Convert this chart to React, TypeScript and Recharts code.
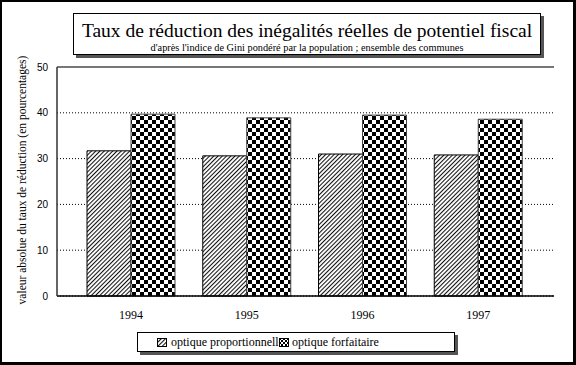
import React from 'react';
import { BarChart, Bar, XAxis, YAxis, CartesianGrid, ReferenceLine } from 'recharts';

const years = ['1994', '1995', '1996', '1997'];
const proportionnelle = [31.7, 30.6, 31.0, 30.8];
const forfaitaire = [39.7, 38.9, 39.5, 38.6];
const yTicks = [0, 10, 20, 30, 40, 50];

const data = years.map((y, i) => ({ year: y, prop: proportionnelle[i], forf: forfaitaire[i] }));

const serif = '"Liberation Serif", "DejaVu Serif", serif';
const sans = '"Liberation Sans", Arial, sans-serif';

// legend like the original: second icon overlaps the end of the first label
const LegendBox = () => (
  <div
    style={{
      position: 'absolute',
      left: 137,
      top: 332,
      width: 318,
      height: 20,
      border: '1px solid #000',
      background: '#fff',
      boxShadow: '3px 3px 0 #555',
      fontFamily: serif,
      fontSize: 12,
      display: 'flex',
      alignItems: 'center',
      boxSizing: 'border-box',
      whiteSpace: 'nowrap',
      paddingLeft: 19,
    }}
  >
    <svg width={10} height={9} style={{ marginRight: 4 }}>
      <rect x={0.5} y={0.5} width={9} height={8} fill="url(#hatchLg)" stroke="#000" />
    </svg>
    <span>optique proportionnelle</span>
    <svg width={10} height={9} style={{ marginLeft: -5, marginRight: 3, position: 'relative', background: '#fff' }}>
      <rect x={0.5} y={0.5} width={9} height={8} fill="url(#checkLg)" stroke="#000" />
    </svg>
    <span>optique forfaitaire</span>
  </div>
);

export default function App() {
  return (
    <div style={{ position: 'relative', width: 576, height: 365 }}>
      <style>{`body{margin:0}`}</style>
      <div
        style={{
          position: 'absolute',
          left: 0,
          top: 0,
          width: 576,
          height: 365,
          borderTop: '2px solid #000',
          borderLeft: '2px solid #000',
          borderRight: '3px solid #000',
          borderBottom: '3px solid #000',
          boxSizing: 'border-box',
        }}
      />
      <BarChart
        width={576}
        height={365}
        data={data}
        margin={{ top: 67, right: 22, bottom: 39, left: 37 }}
        barGap={0}
        barSize={44}
        style={{ position: 'absolute', left: 0, top: 0 }}
      >
        <defs>
          <pattern id="hatch" patternUnits="userSpaceOnUse" width={3} height={3} patternTransform="rotate(45)">
            <rect width={3} height={3} fill="#fff" />
            <line x1={0.5} y1={0} x2={0.5} y2={3} stroke="#111" strokeWidth={1.1} />
          </pattern>
          <pattern id="check" patternUnits="userSpaceOnUse" width={8} height={8}>
            <rect width={8} height={8} fill="#fff" />
            <rect x={0} y={0} width={4} height={4} fill="#000" />
            <rect x={4} y={4} width={4} height={4} fill="#000" />
          </pattern>
          <pattern id="hatchLg" patternUnits="userSpaceOnUse" width={3} height={3} patternTransform="rotate(45)">
            <rect width={3} height={3} fill="#fff" />
            <line x1={0.5} y1={0} x2={0.5} y2={3} stroke="#111" strokeWidth={1.1} />
          </pattern>
          <pattern id="checkLg" patternUnits="userSpaceOnUse" width={4} height={4}>
            <rect width={4} height={4} fill="#fff" />
            <rect x={0} y={0} width={2} height={2} fill="#000" />
            <rect x={2} y={2} width={2} height={2} fill="#000" />
          </pattern>
        </defs>
        <CartesianGrid vertical={false} stroke="#000" strokeDasharray="1 2" />
        <XAxis
          dataKey="year"
          padding={{ left: 16, right: 18 }}
          tickLine={false}
          axisLine={{ stroke: '#000', strokeWidth: 1.5 }}
          tick={{ fill: '#000', fontFamily: serif, fontSize: 12 }}
          tickMargin={8}
        />
        <YAxis
          domain={[0, 50]}
          ticks={yTicks}
          width={20}
          tickLine={false}
          tickSize={0}
          tickMargin={9}
          axisLine={{ stroke: '#333', strokeWidth: 1.5 }}
          tick={{ fill: '#000', fontFamily: sans, fontSize: 10 }}
        />
        <YAxis yAxisId="right" orientation="right" domain={[0, 50]} tick={false} tickLine={false} width={0} axisLine={{ stroke: '#000', strokeWidth: 1.5 }} />
        <ReferenceLine y={50} stroke="#777" strokeWidth={2} />
        <Bar dataKey="prop" name="optique proportionnelle" fill="url(#hatch)" stroke="#000" strokeWidth={1} isAnimationActive={false} />
        <Bar dataKey="forf" name="optique forfaitaire" fill="url(#check)" stroke="#444" strokeWidth={1} isAnimationActive={false} />
      </BarChart>
      <div
        style={{
          position: 'absolute',
          left: 22,
          top: 180,
          transform: 'translate(-50%, -50%) rotate(-90deg)',
          fontFamily: serif,
          fontSize: 11.5,
          whiteSpace: 'nowrap',
          color: '#000',
        }}
      >
        valeur absolue du taux de réduction (en pourcentages)
      </div>
      <div
        style={{
          position: 'absolute',
          left: 73,
          top: 13,
          width: 468,
          height: 42,
          border: '1px solid #000',
          background: '#fff',
          boxShadow: '3px 3px 0 #555',
          boxSizing: 'border-box',
          textAlign: 'center',
          fontFamily: serif,
          color: '#000',
          whiteSpace: 'nowrap',
        }}
      >
        <div style={{ fontSize: 19.5, lineHeight: '22px', marginTop: 6 }}>
          Taux de réduction des inégalités réelles de potentiel fiscal
        </div>
        <div style={{ fontSize: 10.3, lineHeight: '12px', marginTop: 0 }}>
          d'après l'indice de Gini pondéré par la population ; ensemble des communes
        </div>
      </div>
      <LegendBox />
    </div>
  );
}
